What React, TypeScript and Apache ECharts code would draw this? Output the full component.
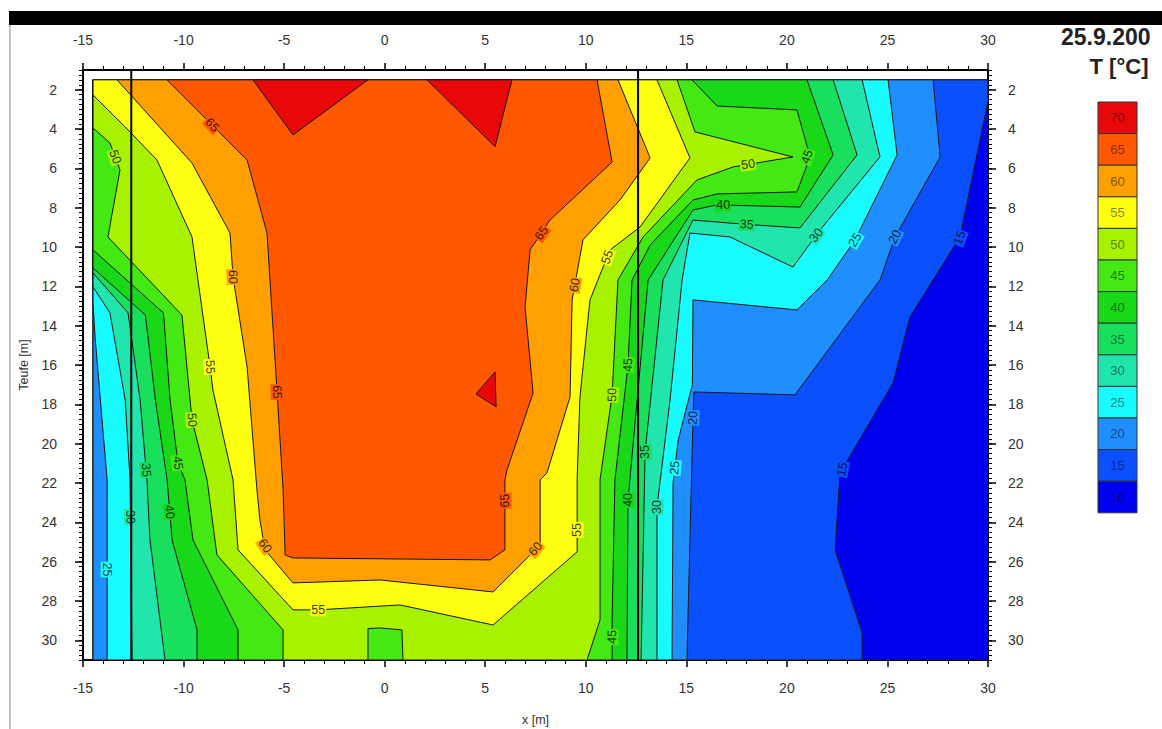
import React, { useEffect, useRef } from "react";
import * as echarts from "echarts";

// ---- data ----
const LEVELS = [10, 15, 20, 25, 30, 35, 40, 45, 50, 55, 60, 65, 70];
const LEVEL_COLORS = [
  "#0000f0", "#0b50ff", "#1f8fff", "#18fcff", "#20e6ae", "#19e05c", "#18d818",
  "#44e812", "#a8f200", "#ffff10", "#ffa000", "#ff5800", "#e80808",
];
const LEGEND_LEVELS = [70, 65, 60, 55, 50, 45, 40, 35, 30, 25, 20, 15, 10];
const X_MIN = -15;
const X_MAX = 30;
const DEPTH_MIN = 1;
const DEPTH_MAX = 31;
const DEPTH_TICKS = [2, 4, 6, 8, 10, 12, 14, 16, 18, 20, 22, 24, 26, 28, 30];
const WALLS = [-12.6, 12.6];

// superlevel regions (T >= level), [x m, depth m]
const REGION_10 = [[-14.5, 1.5], [30, 1.5], [30, 31], [-14.5, 31]];
const REGION_15 = [[-14.5, 1.5], [30, 1.5], [30, 2.6], [28.61, 9.49], [26.12, 13.56], [25.28, 16.91], [22.64, 21.49], [22.4, 25.4], [23.74, 29.62], [23.74, 31], [-14.5, 31]];
const REGION_20 = [[-14.5, 1.5], [27.27, 1.5], [27.62, 5.42], [25.38, 9.49], [24.63, 11.68], [20.4, 17.52], [15.38, 17.37], [15.33, 18.79], [15.03, 31], [-14.5, 31]];
const REGION_25 = [[-14.5, 1.5], [25.03, 1.5], [25.48, 5.32], [23.39, 9.64], [22.0, 11.68], [20.5, 13.2], [15.33, 12.69], [15.3, 17.0], [14.6, 19.8], [14.34, 22.0], [14.29, 31], [-13.8, 31], [-13.8, 21.84], [-14.4, 14.57], [-14.5, 12.9]];
const REGION_30 = [[-14.5, 1.5], [23.74, 1.5], [24.63, 5.42], [21.65, 9.13], [20.3, 11.02], [17.17, 9.49], [15.18, 9.29], [14.79, 11.68], [14.19, 17.78], [13.54, 23.22], [13.54, 31], [-12.56, 31], [-12.66, 21.84], [-12.9, 17.78], [-13.66, 13.35], [-14.5, 12.03]];
const REGION_35 = [[-14.5, 1.5], [22.3, 1.5], [23.49, 5.32], [20.65, 9.03], [17.98, 8.85], [15.33, 8.63], [13.84, 11.68], [12.95, 20.42], [12.75, 31], [-10.92, 31], [-11.67, 24.9], [-11.82, 21.84], [-12.16, 17.78], [-12.76, 13.35], [-14.5, 11.32]];
const REGION_40 = [[-14.5, 1.5], [21.0, 1.5], [22.3, 5.32], [20.65, 7.97], [16.53, 7.86], [15.33, 8.12], [13.1, 11.68], [12.1, 22.86], [12.05, 31], [-9.33, 31], [-9.33, 29.47], [-10.57, 24.9], [-10.82, 21.84], [-11.4, 17.78], [-11.9, 13.46], [-14.5, 11.07]];
const REGION_45 = [[-14.5, 1.5], [15.28, 1.5], [16.53, 2.83], [20.5, 3.03], [21.15, 5.42], [20.5, 7.2], [16.53, 7.3], [15.33, 7.61], [13.2, 9.9], [12.3, 11.68], [12.1, 16.0], [11.45, 21.84], [11.31, 28.96], [11.31, 31], [-7.29, 31], [-7.29, 29.47], [-9.53, 24.9], [-9.93, 21.84], [-10.28, 20.98], [-10.67, 17.78], [-11.0, 13.35], [-14.5, 10.15]];
const REGION_50 = [[-14.5, 1.5], [14.54, 1.5], [15.43, 4.15], [20.3, 5.42], [17.32, 5.93], [15.53, 6.59], [12.85, 9.49], [11.6, 11.68], [11.31, 17.52], [10.71, 21.84], [10.71, 28.96], [10.06, 31], [0.91, 31], [0.86, 29.47], [-0.23, 29.37], [-0.83, 29.4], [-0.83, 31], [-5.05, 31], [-5.05, 29.47], [-8.34, 25.66], [-8.83, 21.84], [-9.58, 18.79], [-10.08, 13.46], [-13.76, 9.49], [-13.16, 6.08], [-13.66, 4.71], [-14.5, 3.95]];
const REGION_55 = [[-14.5, 1.5], [13.54, 1.5], [15.18, 5.47], [12.7, 8.98], [11.21, 10.15], [10.71, 11.4], [10.21, 12.69], [9.71, 17.62], [9.57, 21.84], [9.57, 25.5], [5.39, 29.22], [0.76, 28.2], [-3.3, 28.45], [-4.56, 28.45], [-7.29, 25.4], [-7.54, 21.84], [-8.54, 17.27], [-8.68, 16.1], [-9.58, 9.49], [-11.32, 5.58], [-12.66, 4.15], [-14.5, 2.27]];
const REGION_60 = [[-13.31, 1.5], [11.6, 1.5], [13.2, 5.47], [11.7, 7.61], [9.86, 9.64], [9.32, 12.69], [9.22, 17.62], [8.07, 21.49], [7.73, 21.84], [7.73, 25.05], [7.33, 25.56], [5.39, 27.54], [-0.23, 26.93], [-4.56, 27.08], [-5.95, 25.4], [-6.2, 23.9], [-6.35, 22.35], [-6.84, 16.1], [-7.54, 11.52], [-7.69, 9.29], [-9.58, 5.73]];
const REGION_65 = [[-10.82, 1.5], [10.56, 1.5], [11.31, 5.68], [8.22, 8.63], [7.23, 10.15], [6.98, 13.05], [7.38, 17.42], [6.08, 21.34], [5.98, 21.84], [5.98, 25.4], [5.24, 25.91], [-4.56, 25.81], [-4.95, 25.66], [-5.05, 22.35], [-5.35, 17.37], [-5.85, 9.29], [-6.84, 5.58]];
const REGION_70_A = [[-6.55, 1.5], [-0.83, 1.5], [-4.56, 4.3]];
const REGION_70_B = [[2.1, 1.5], [6.33, 1.5], [5.49, 4.9]];
const REGION_70_C = [[5.49, 16.35], [4.54, 17.47], [5.54, 18.13]];

const REGIONS = [
  { level: 10, points: REGION_10 },
  { level: 15, points: REGION_15 },
  { level: 20, points: REGION_20 },
  { level: 25, points: REGION_25 },
  { level: 30, points: REGION_30 },
  { level: 35, points: REGION_35 },
  { level: 40, points: REGION_40 },
  { level: 45, points: REGION_45 },
  { level: 50, points: REGION_50 },
  { level: 55, points: REGION_55 },
  { level: 60, points: REGION_60 },
  { level: 65, points: REGION_65 },
  { level: 70, points: REGION_70_A },
  { level: 70, points: REGION_70_B },
  { level: 70, points: REGION_70_C },
];

// contour labels: x, depth, text, rotation (deg, counter-clockwise)
const CONTOUR_LABELS: [number, number, string, number][] = [
  [-8.58, 3.8, "65", -48],
  [-13.4, 5.42, "50", -70],
  [-7.54, 11.52, "60", -88],
  [-8.68, 16.1, "55", -86],
  [-5.35, 17.37, "65", -88],
  [-9.58, 18.79, "50", -86],
  [-10.28, 20.98, "45", -84],
  [-11.86, 21.34, "35", -86],
  [-10.69, 23.47, "40", -85],
  [-12.64, 23.73, "30", -89],
  [-13.8, 26.4, "25", -90],
  [-5.95, 25.2, "60", -55],
  [-3.3, 28.45, "55", 0],
  [7.8, 9.3, "65", 55],
  [9.45, 11.93, "60", 80],
  [11.07, 10.51, "55", 70],
  [11.31, 17.52, "50", 88],
  [12.1, 16.0, "45", 88],
  [12.95, 20.42, "35", 90],
  [12.1, 22.86, "40", 90],
  [13.54, 23.22, "30", 90],
  [14.43, 21.23, "25", 85],
  [15.33, 18.69, "20", 88],
  [5.98, 22.9, "65", 90],
  [7.5, 25.35, "60", 50],
  [9.57, 24.39, "55", 90],
  [11.31, 29.83, "45", 88],
  [18.07, 5.8, "50", 8],
  [21.0, 5.42, "45", 70],
  [16.83, 7.86, "40", 0],
  [18.0, 8.85, "35", -3],
  [21.46, 9.4, "30", 52],
  [23.39, 9.64, "25", 58],
  [25.38, 9.49, "20", 62],
  [28.6, 9.54, "15", 70],
  [22.75, 21.3, "15", 80],
];

const FONT = '"Liberation Sans", Arial, sans-serif';

function colorOf(level: number) {
  return LEVEL_COLORS[LEVELS.indexOf(level)];
}

function buildOption() {
  const tickLabel = { color: "#333", fontSize: 14, fontFamily: FONT };
  const axisLine = { show: true, onZero: false, lineStyle: { color: "#000", width: 2 } };

  const xAxisBase = {
    type: "value",
    min: X_MIN,
    max: X_MAX,
    interval: 5,
    axisLine,
    axisTick: { show: true, inside: false, length: 7, lineStyle: { color: "#000", width: 1.5 } },
    minorTick: { show: true, splitNumber: 5, length: 4, lineStyle: { color: "#000", width: 1 } },
    splitLine: { show: false },
    minorSplitLine: { show: false },
  };

  const yMajor = (pos: string, margin: number, withName: boolean) => ({
    type: "value",
    position: pos,
    min: DEPTH_MIN,
    max: DEPTH_MAX,
    inverse: true,
    axisLine,
    axisTick: { show: true, inside: false, length: 8, customValues: DEPTH_TICKS, lineStyle: { color: "#000", width: 1.5 } },
    axisLabel: { ...tickLabel, margin, customValues: DEPTH_TICKS },
    splitLine: { show: false },
    ...(withName
      ? {
          name: "Teufe [m]",
          nameLocation: "middle",
          nameGap: 51,
          nameTextStyle: { color: "#333", fontSize: 12.5, fontFamily: FONT },
        }
      : {}),
  });

  const yMinor = (pos: string) => ({
    type: "value",
    position: pos,
    min: DEPTH_MIN,
    max: DEPTH_MAX,
    interval: 0.25,
    inverse: true,
    axisLine: { show: false, onZero: false },
    axisTick: { show: true, inside: false, length: 4, lineStyle: { color: "#000", width: 1 } },
    axisLabel: { show: false },
    splitLine: { show: false },
  });

  const legendGraphics: any[] = [];
  const LG_X = 1098;
  const LG_Y = 102;
  const LG_W = 39;
  const LG_H = 31.6;
  LEGEND_LEVELS.forEach((lv, i) => {
    legendGraphics.push({
      type: "rect",
      shape: { x: LG_X, y: LG_Y + i * LG_H, width: LG_W, height: LG_H },
      style: { fill: colorOf(lv), stroke: "#333", lineWidth: 1 },
    });
    legendGraphics.push({
      type: "text",
      x: LG_X + LG_W / 2,
      y: LG_Y + i * LG_H + LG_H / 2,
      style: {
        text: String(lv),
        fill: "rgba(0,0,0,0.5)",
        font: `13px ${FONT}`,
        textAlign: "center",
        textVerticalAlign: "middle",
        align: "center",
        verticalAlign: "middle",
      },
    });
  });

  return {
    animation: false,
    backgroundColor: "#ffffff",
    grid: { left: 83, right: 174, top: 70, bottom: 69, containLabel: false, outerBoundsMode: "none" },
    xAxis: [
      {
        ...xAxisBase,
        position: "bottom",
        axisLabel: { ...tickLabel, margin: 21 },
        name: "x [m]",
        nameLocation: "middle",
        nameGap: 53,
        nameTextStyle: { color: "#333", fontSize: 12.5, fontFamily: FONT },
      },
      { ...xAxisBase, position: "top", axisLabel: { ...tickLabel, margin: 23 } },
    ],
    yAxis: [yMajor("left", 26, true), yMinor("left"), yMajor("right", 20, false), yMinor("right")],
    graphic: [
      { type: "rect", shape: { x: 9, y: 11, width: 1153, height: 14 }, style: { fill: "#000" } },
      { type: "line", shape: { x1: 10, y1: 25, x2: 10, y2: 729 }, style: { stroke: "#b0b0b0", lineWidth: 1.5 } },
      { type: "rect", shape: { x: 980, y: 468, width: 7.5, height: 89, r: [0, 0, 0, 4] }, style: { fill: "#fff" } },
      {
        type: "text",
        x: 1061,
        y: 37,
        style: { text: "25.9.200", font: `bold 23px ${FONT}`, fill: "#222", textVerticalAlign: "middle", verticalAlign: "middle" },
      },
      {
        type: "text",
        x: 1119,
        y: 66,
        style: {
          text: "T [°C]",
          font: `bold 22px ${FONT}`,
          fill: "#222",
          textAlign: "center",
          align: "center",
          textVerticalAlign: "middle",
          verticalAlign: "middle",
        },
      },
      ...legendGraphics,
    ],
    series: [
      {
        type: "custom",
        name: "contours",
        xAxisIndex: 0,
        yAxisIndex: 0,
        clip: true,
        silent: true,
        z: 1,
        data: REGIONS.map((_, i) => [i]),
        renderItem: (params: any, api: any) => {
          const r = REGIONS[params.dataIndex];
          const pts = r.points.map((p) => api.coord(p));
          return {
            type: "polygon",
            z2: params.dataIndex,
            shape: { points: pts },
            style: { fill: colorOf(r.level), stroke: "#161616", lineWidth: 1 },
          };
        },
      },
      {
        type: "custom",
        name: "labels",
        xAxisIndex: 0,
        yAxisIndex: 0,
        clip: true,
        silent: true,
        z: 3,
        data: CONTOUR_LABELS.map((l) => [l[0], l[1]]),
        renderItem: (params: any, api: any) => {
          const l = CONTOUR_LABELS[params.dataIndex];
          const p = api.coord([l[0], l[1]]);
          return {
            type: "text",
            x: p[0],
            y: p[1],
            rotation: (l[3] * Math.PI) / 180,
            style: {
              text: l[2],
              font: `12.5px ${FONT}`,
              fill: "rgba(0,0,0,0.8)",
              align: "center",
              verticalAlign: "middle",
              textAlign: "center",
              textVerticalAlign: "middle",
              backgroundColor: colorOf(Number(l[2])),
              padding: [0, 1],
            },
          };
        },
      },
      ...WALLS.map((w) => ({
        type: "line",
        name: "wall",
        xAxisIndex: 0,
        yAxisIndex: 0,
        data: [
          [w, DEPTH_MIN],
          [w, DEPTH_MAX],
        ],
        showSymbol: false,
        symbol: "none",
        silent: true,
        clip: false,
        z: 5,
        lineStyle: { color: "#000", width: 2 },
      })),
    ],
  };
}

export default function App() {
  const ref = useRef<HTMLDivElement>(null);
  useEffect(() => {
    if (!ref.current) return;
    const chart = echarts.init(ref.current, null, { renderer: "svg" });
    chart.setOption(buildOption() as any);
    return () => {
      chart.dispose();
    };
  }, []);
  return (
    <div
      ref={ref}
      style={{ position: "absolute", left: 0, top: 0, width: 1162, height: 729, background: "#fff" }}
    />
  );
}
